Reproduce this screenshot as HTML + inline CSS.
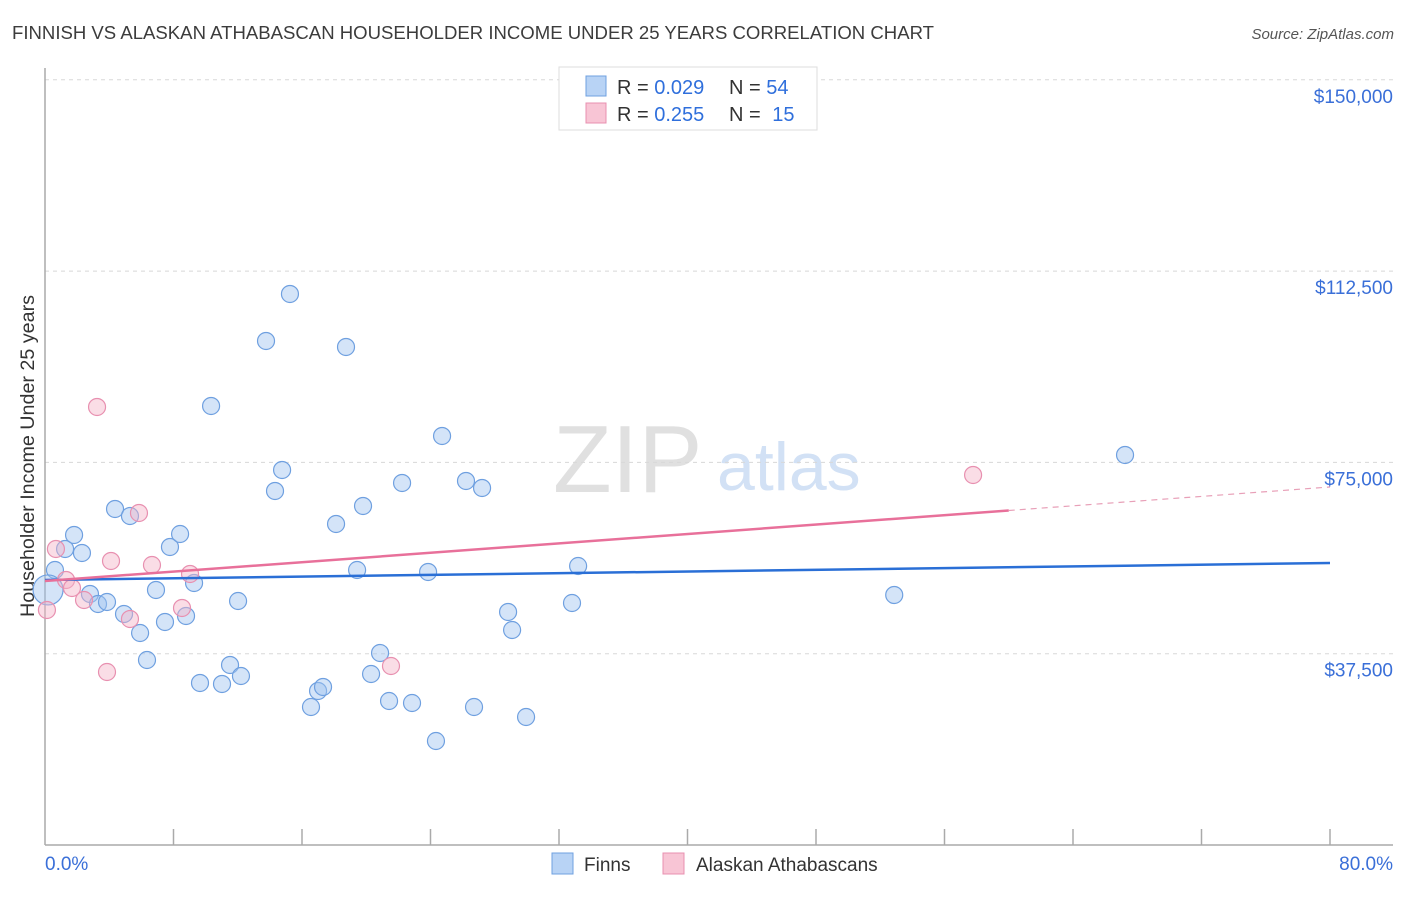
<!DOCTYPE html>
<html><head><meta charset="utf-8"><style>
body{margin:0;background:#fff;font-family:"Liberation Sans",sans-serif;}
svg text{font-family:"Liberation Sans",sans-serif;}
</style></head><body>
<svg id="chart" width="1406" height="892" viewBox="0 0 1406 892">
<text x="12" y="39" font-size="18" fill="#3c3c3c" textLength="922" lengthAdjust="spacingAndGlyphs">FINNISH VS ALASKAN ATHABASCAN HOUSEHOLDER INCOME UNDER 25 YEARS CORRELATION CHART</text>
<text x="1394" y="39" font-size="15" fill="#555" font-style="italic" text-anchor="end">Source: ZipAtlas.com</text>
<g>
<text x="553" y="492" font-size="96" fill="#e0e0e0" font-family="Liberation Serif">ZIP</text>
<text x="717" y="490" font-size="68" fill="#d2e1f5">atlas</text>
</g>
<g id="grid"></g>
<line x1="45" y1="68" x2="45" y2="845" stroke="#aaa" stroke-width="1.5"/>
<line x1="45" y1="845" x2="1393" y2="845" stroke="#aaa" stroke-width="1.5"/>
<g id="xticks"></g>
<text transform="translate(34,456) rotate(-90)" font-size="19" fill="#333" text-anchor="middle" textLength="322" lengthAdjust="spacingAndGlyphs">Householder Income Under 25 years</text>
<text x="45" y="870" font-size="19" fill="#3a6fd8">0.0%</text>
<text x="1393" y="870" font-size="19" fill="#3a6fd8" text-anchor="end">80.0%</text>
<g id="points"></g>
<g id="trends"></g>
<g>
<rect x="559" y="67" width="258" height="63" fill="#fff" stroke="#ddd"/>
<rect x="586" y="76" width="20" height="20" fill="#b8d3f5" stroke="#6fa0e0"/>
<rect x="586" y="103" width="20" height="20" fill="#f8c5d5" stroke="#e890b0"/>
<text x="617" y="94" font-size="20" fill="#333">R = <tspan fill="#2f6fdc">0.029</tspan></text>
<text x="729" y="94" font-size="20" fill="#333">N = <tspan fill="#2f6fdc">54</tspan></text>
<text x="617" y="121" font-size="20" fill="#333">R = <tspan fill="#2f6fdc">0.255</tspan></text>
<text x="729" y="121" font-size="20" fill="#333">N = <tspan fill="#2f6fdc" dx="6">15</tspan></text>
</g>
<g>
<rect x="552" y="853" width="21" height="21" fill="#b8d3f5" stroke="#6fa0e0"/>
<text x="584" y="871" font-size="19" fill="#333">Finns</text>
<rect x="663" y="853" width="21" height="21" fill="#f8c5d5" stroke="#e890b0"/>
<text x="696" y="871" font-size="19" fill="#333">Alaskan Athabascans</text>
</g>
</svg>
<script>
const yTicks=[37500,75000,112500,150000];
const yTickLabels=["$37,500","$75,000","$112,500","$150,000"];
const finnsX=[0.62,1.25,1.81,2.30,2.80,3.30,3.86,4.36,4.92,5.29,5.92,6.35,6.91,7.47,7.78,8.41,8.78,9.28,9.65,10.34,11.02,11.52,12.02,12.20,13.76,14.32,14.76,15.25,16.56,17.00,17.31,18.12,18.74,19.43,19.80,20.30,20.86,21.42,22.23,22.85,23.85,24.34,24.72,26.21,26.71,27.21,28.83,29.08,29.95,32.81,33.19,52.87,67.24,0.19];
const finnsY=[53908,58025,60769,57241,49204,47244,47635,65866,45283,64494,41558,36265,49988,43715,58417,60965,44891,51360,31757,86057,31561,35286,47831,33129,98799,69395,73511,108012,27052,30189,30973,62926,97623,53908,66454,33521,37638,28228,70963,27836,53516,20387,80176,71355,27052,69983,45675,42146,25092,47439,54692,49008,76452,50000];
const alaskanX=[0.12,0.68,1.31,1.68,2.43,3.24,3.86,4.11,5.29,5.85,6.66,8.53,9.03,21.54,57.78];
const alaskanY=[46067,58025,51948,50380,48027,85861,33913,55673,44303,65082,54888,46459,53124,35089,72531];
const finnsTrend=[51948,55281];
const alaskanTrend=[51752,70179];
const alaskanSolidEnd=60;
const NS="http://www.w3.org/2000/svg";
const xs=v=>45+v/80*1285;
const ys=v=>845-v/37500*191.3;
function mk(tag,attrs,parent){const e=document.createElementNS(NS,tag);for(const k in attrs)e.setAttribute(k,attrs[k]);parent.appendChild(e);return e;}
const grid=document.getElementById('grid');
yTicks.forEach((t,i)=>{
 const l=mk('line',{x1:45,x2:1393,y1:ys(t),y2:ys(t),stroke:'#d8d8d8','stroke-dasharray':'4,4'},grid);
 
 
 const tx=mk('text',{x:1393,y:ys(t)+23,'font-size':19,fill:'#3a6fd8','text-anchor':'end'},grid);
 tx.textContent=yTickLabels[i];
 
 
});
const xt=document.getElementById('xticks');
for(let i=1;i<=10;i++){
 const l=mk('line',{x1:xs(i*8),x2:xs(i*8),y1:829,y2:845,stroke:'#aaa','stroke-width':1.5},xt);
 
 
}
const pts=document.getElementById('points');
finnsX.forEach((x,i)=>{
 const r=i===finnsX.length-1?15:8.5;
 const c=mk('circle',{cx:xs(x),cy:ys(finnsY[i]),r:r,fill:'rgba(160,195,240,0.45)',stroke:'#6fa0e0','stroke-width':1.2},pts);
 
 
});
alaskanX.forEach((x,i)=>{
 const c=mk('circle',{cx:xs(x),cy:ys(alaskanY[i]),r:8.5,fill:'rgba(245,180,200,0.45)',stroke:'#e890b0','stroke-width':1.2},pts);
 
 
});
const tr=document.getElementById('trends');
const bl=mk('line',{x1:xs(0),y1:ys(finnsTrend[0]),x2:xs(80),y2:ys(finnsTrend[1]),stroke:'#2a6fd6','stroke-width':2.5},tr);


const midY=alaskanTrend[0]+(alaskanTrend[1]-alaskanTrend[0])*alaskanSolidEnd/80;
const pl=mk('line',{x1:xs(0),y1:ys(alaskanTrend[0]),x2:xs(alaskanSolidEnd),y2:ys(midY),stroke:'#e8709a','stroke-width':2.5},tr);


const pd=mk('line',{x1:xs(alaskanSolidEnd),y1:ys(midY),x2:xs(80),y2:ys(alaskanTrend[1]),stroke:'#e8a0b8','stroke-width':1.2,'stroke-dasharray':'6,5'},tr);


</script>
</body></html>
